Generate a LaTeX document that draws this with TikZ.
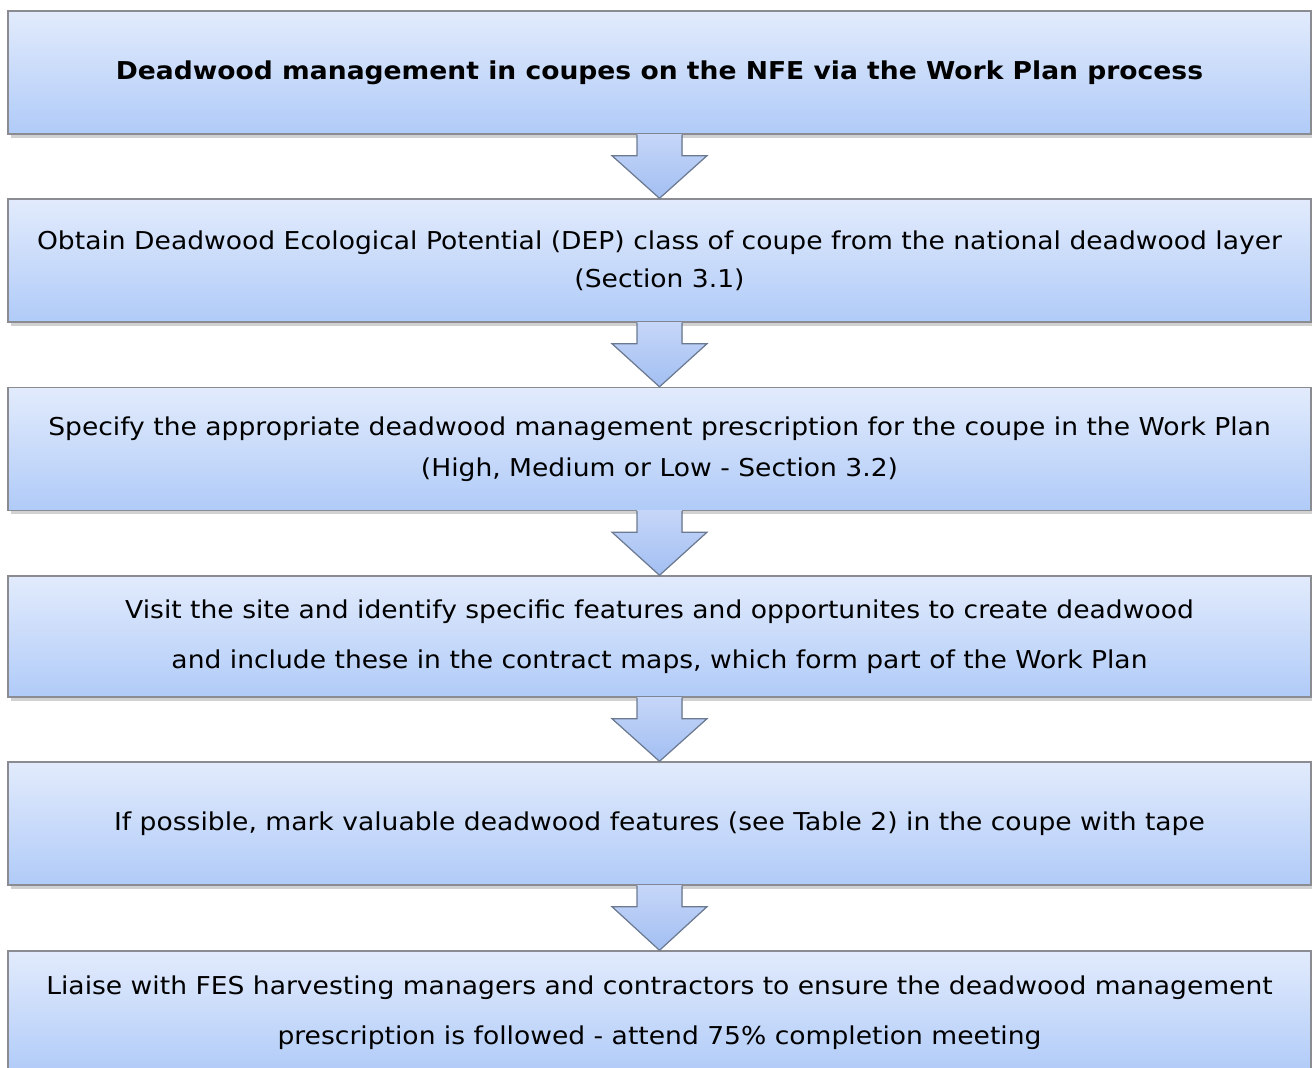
\documentclass[tikz,border=0pt]{standalone}
\usepackage{fontspec}
\setmainfont[FakeStretch=1.08]{DejaVu Sans}
\usetikzlibrary{calc,shadows}

\definecolor{boxtop}{RGB}{226,235,252}
\definecolor{boxbot}{RGB}{176,203,248}
\definecolor{boxline}{RGB}{138,140,145}
\definecolor{arrtop}{RGB}{198,214,248}
\definecolor{arrbot}{RGB}{162,191,242}
\definecolor{arrline}{RGB}{108,122,145}

\tikzset{
  stepbox/.style={draw=boxline, line width=0.8pt, top color=boxtop, bottom color=boxbot,
    minimum width=26.06cm, minimum height=2.46cm, inner sep=0pt, align=center,
    drop shadow={shadow xshift=0.05cm, shadow yshift=-0.08cm, opacity=0.3, fill=black!60}},
  flowarrow/.style={top color=arrtop, bottom color=arrbot},
  arrowline/.style={draw=arrline, line width=0.7pt, line join=miter}
}

\begin{document}
\begin{tikzpicture}[x=0.02cm,y=-0.02cm]
  \clip (0,0) rectangle (1312,1068);
  % Steps
  \node[stepbox, font=\fontsize{14}{16}\selectfont] (b1) at (659.5,72.5)
    {\bfseries Deadwood management in coupes on the NFE via the Work Plan process};
  \node[stepbox, font=\fontsize{14}{21.6}\selectfont] (b2) at (659.5,260.5)
    {Obtain Deadwood Ecological Potential (DEP) class of coupe from the national deadwood layer\\(Section 3.1)};
  \node[stepbox, font=\fontsize{14}{23.3}\selectfont] (b3) at (659.5,449)
    {Specify the appropriate deadwood management prescription for the coupe in the Work Plan\\(High, Medium or Low - Section 3.2)};
  \node[stepbox, minimum height=2.42cm, font=\fontsize{14}{28.5}\selectfont] (b4) at (659.5,636.5)
    {Visit the site and identify specific features and opportunites to create deadwood\\and include these in the contract maps, which form part of the Work Plan};
  \node[stepbox, font=\fontsize{14}{16}\selectfont] (b5) at (659.5,823.5)
    {If possible, mark valuable deadwood features (see Table 2) in the coupe with tape};
  \node[stepbox, font=\fontsize{14}{28.5}\selectfont] (b6) at (659.5,1012.5)
    {Liaise with FES harvesting managers and contractors to ensure the deadwood management\\prescription is followed - attend 75\% completion meeting};
  % Arrows between the steps
  \foreach \a/\b in {b1/b2,b2/b3,b3/b4,b4/b5,b5/b6}{
    \fill[flowarrow] ($(\a.south)+(-22.5,-1)$) -- ($(\a.south)+(-22.5,21)$)
      -- ($(\a.south)+(-47.5,21)$) -- (\b.north) -- ($(\a.south)+(47.5,21)$)
      -- ($(\a.south)+(22.5,21)$) -- ($(\a.south)+(22.5,-1)$) -- cycle;
    \draw[arrowline] ($(\a.south)+(-22.5,0)$) -- ($(\a.south)+(-22.5,21)$)
      -- ($(\a.south)+(-47.5,21)$) -- (\b.north) -- ($(\a.south)+(47.5,21)$)
      -- ($(\a.south)+(22.5,21)$) -- ($(\a.south)+(22.5,0)$);
  }
\end{tikzpicture}
\end{document}
